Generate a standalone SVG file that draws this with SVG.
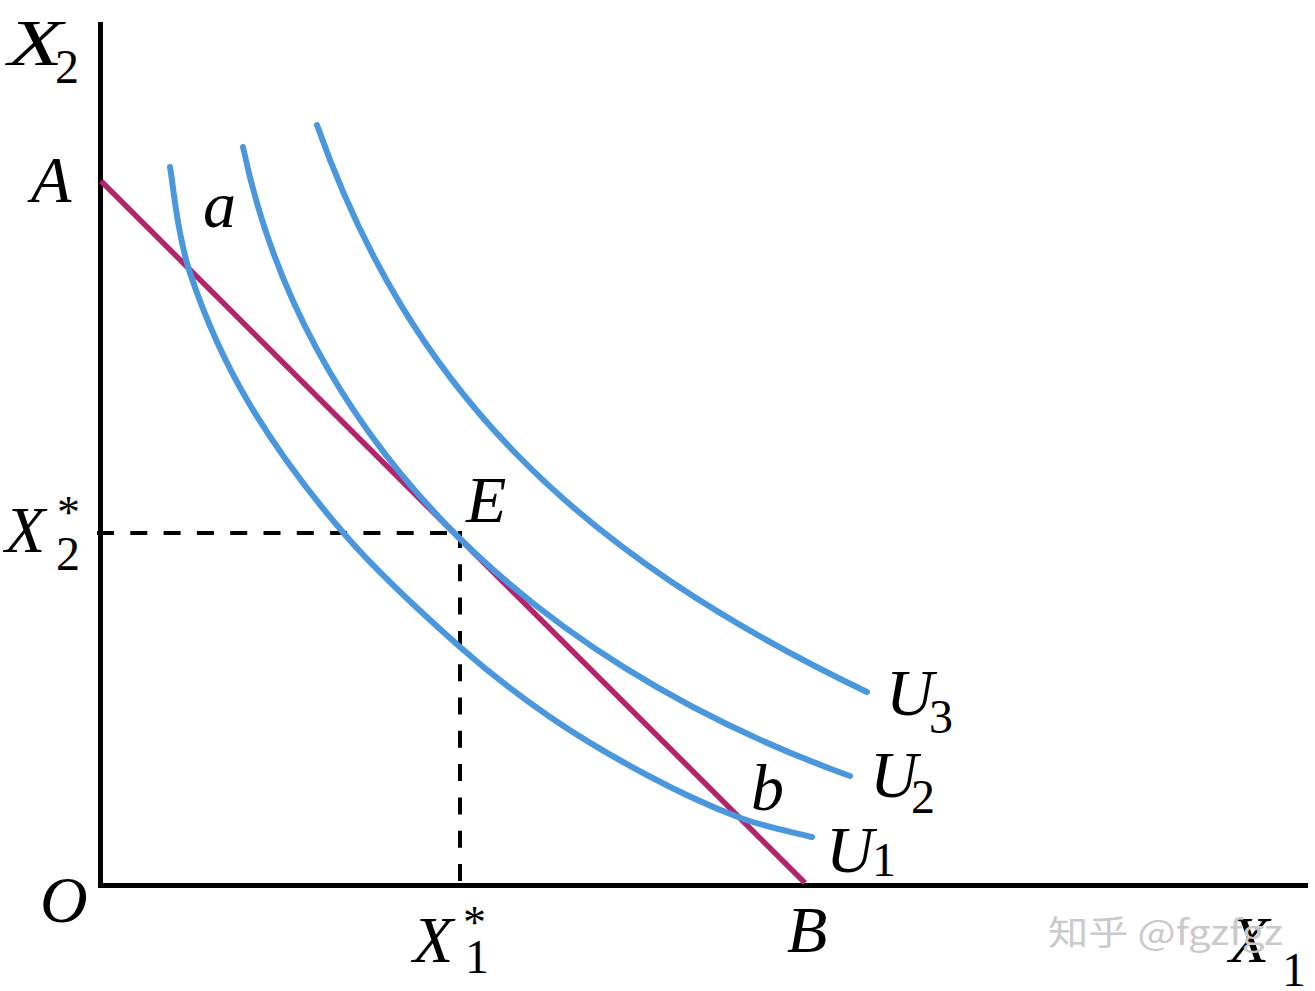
<svg xmlns="http://www.w3.org/2000/svg" width="1315" height="991" viewBox="0 0 1315 991">
<style>
.axis{stroke:#000;stroke-width:5;fill:none}
.dash{stroke:#000;stroke-width:4;fill:none;stroke-dasharray:17 16.3}
.budget{stroke:#b3246c;stroke-width:5.5;fill:none;stroke-linecap:butt}
.curve{stroke:#4a97de;stroke-width:6;fill:none;stroke-linecap:round}
.lbl{font-family:"Liberation Serif","Times New Roman",serif;font-style:italic;font-size:66px;fill:#000}
.sub{font-family:"Liberation Serif","Times New Roman",serif;font-size:48px;fill:#000}
.star{font-family:"Liberation Serif","Times New Roman",serif;font-size:46px;fill:#000}
.wm{font-family:"Noto Sans CJK SC","Noto Sans",sans-serif;font-size:34px;fill:#cacaca}
</style>
<rect width="1315" height="991" fill="#fff"/>
<g id="connectors">
<path class="dash" d="M97 533 H460"/>
<path class="dash" d="M460 531 V883"/>
<path class="axis" d="M100.5 22 V885.5 H1308"/>
<path id="budget-line" class="budget" d="M101 181 L805 883"/>
</g>
<g id="U1">
<path class="curve" d="M170 167 C173.3 184.7 176.7 233.3 190 273 C203.3 312.7 223.8 361 250 405 C276.2 449 312 496.7 347 537 C382 577.3 426.2 617 460 647 C493.8 677 519.2 695.8 550 717 C580.8 738.2 613.7 757.3 645 774 C676.3 790.7 710.2 806.5 738 817 C765.8 827.5 799.7 833.7 812 837"/>
<text class="lbl" x="826" y="872">U</text><text class="sub" x="872" y="876">1</text>
</g>
<g id="U2">
<path class="curve" d="M243 147 C302.1 431 520.7 657.5 850 776"/>
<text class="lbl" x="870" y="797">U</text><text class="sub" x="911" y="813">2</text>
</g>
<g id="U3">
<path class="curve" d="M317 125 C409.9 387.8 572.3 550.6 867 692"/>
<text class="lbl" x="886" y="715">U</text><text class="sub" x="929" y="733">3</text>
</g>
<g id="axis-labels">
<text class="lbl" x="8" y="65" textLength="55" lengthAdjust="spacingAndGlyphs">X</text><text class="sub" x="55" y="83">2</text>
<text class="lbl" x="5" y="552">X</text><text class="star" x="57" y="528">*</text><text class="sub" x="56" y="570">2</text>
<text class="lbl" x="413" y="962">X</text><text class="star" x="463" y="938">*</text><text class="sub" x="465" y="973">1</text>
<text class="lbl" x="1229" y="962">X</text><text class="sub" x="1282" y="986">1</text>
<text class="lbl" x="40" y="922">O</text>
</g>
<g id="point-labels">
<text class="lbl" x="31" y="202">A</text>
<text class="lbl" x="203" y="227">a</text>
<text class="lbl" x="466" y="522">E</text>
<text class="lbl" x="751" y="810">b</text>
<text class="lbl" x="787" y="952">B</text>
</g>
<text class="wm" x="1048" y="945" textLength="235" lengthAdjust="spacingAndGlyphs">知乎 @fgzfgz</text>
</svg>
